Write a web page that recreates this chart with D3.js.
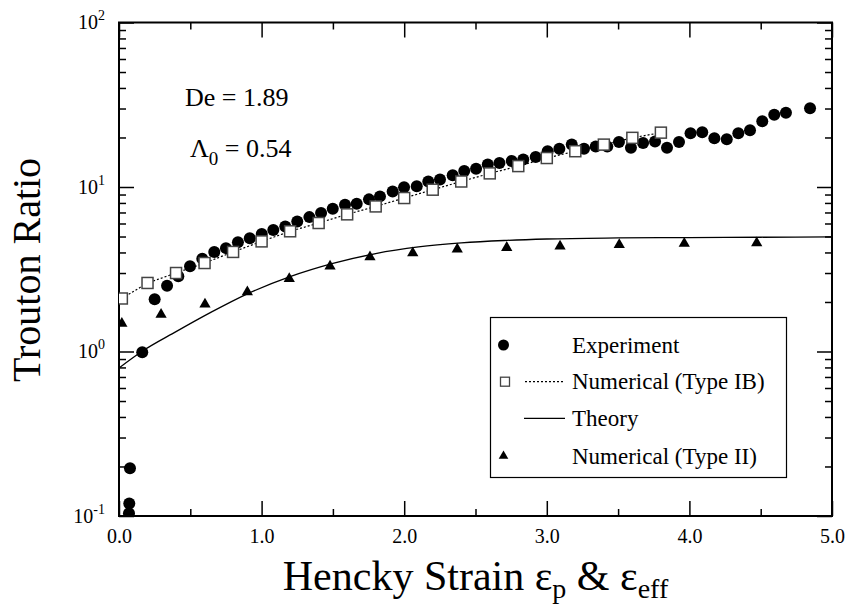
<!DOCTYPE html>
<html>
<head>
<meta charset="utf-8">
<script src="https://cdn.jsdelivr.net/npm/d3@7"></script>
<style>
  body { margin: 0; background: #fff; }
  svg text { font-family: "Liberation Serif", "Times New Roman", serif !important; fill: #000; }
</style>
</head>
<body>
<div id="chart"></div>
<script>
// Experiment (filled circles)
const expX = [0.07, 0.072, 0.077, 0.163, 0.25, 0.337, 0.416, 0.498, 0.584, 0.668, 0.75, 0.834, 0.917, 1.001,
  1.082, 1.166, 1.25, 1.335, 1.417, 1.499, 1.585, 1.667, 1.753, 1.83, 1.919, 1.999, 2.088, 2.169, 2.251, 2.34,
  2.421, 2.504, 2.586, 2.668, 2.754, 2.835, 2.922, 3.006, 3.088, 3.175, 3.261, 3.343, 3.424, 3.506, 3.59, 3.675,
  3.759, 3.843, 3.927, 4.008, 4.09, 4.175, 4.262, 4.343, 4.425, 4.511, 4.595, 4.677, 4.846];
const expY = [0.104, 0.119, 0.195, 0.99, 2.08, 2.51, 2.87, 3.30, 3.66, 4.02, 4.25, 4.61, 4.88, 5.18,
  5.47, 5.76, 6.17, 6.56, 6.94, 7.38, 7.81, 7.92, 8.41, 8.77, 9.40, 9.98, 10.1, 10.8, 11.1, 11.8,
  12.5, 12.9, 13.7, 14.0, 14.4, 14.7, 15.2, 16.5, 17.1, 18.1, 17.1, 17.6, 17.6, 18.8, 17.3, 18.5,
  18.9, 17.3, 18.8, 21.2, 21.5, 19.8, 19.5, 21.2, 22.1, 25.1, 27.5, 28.3, 30.1];

// Numerical (Type IB) (open squares, dotted line)
const ibX = [0.02, 0.2, 0.4, 0.6, 0.8, 1.0, 1.2, 1.4, 1.6, 1.8, 2.0, 2.2, 2.4, 2.6, 2.8, 3.0, 3.2, 3.4, 3.6, 3.8];
const ibY = [2.10, 2.61, 3.00, 3.45, 4.03, 4.67, 5.38, 6.04, 6.82, 7.62, 8.57, 9.63, 10.8, 12.1, 13.4, 15.0, 16.5, 18.1, 19.9, 21.4];

// Theory (solid line)
const thX = [0, 0.16, 0.4, 0.65, 0.9, 1.2, 1.5, 1.8, 2.1, 2.4, 2.7, 3.0, 3.5, 4.0, 4.5, 5.0];
const thY = [0.794, 1.0, 1.32, 1.74, 2.24, 2.85, 3.43, 3.94, 4.32, 4.57, 4.73, 4.83, 4.90, 4.93, 4.95, 4.97];

// Numerical (Type II) (filled triangles)
const t2X = [0.02, 0.295, 0.603, 0.9, 1.194, 1.48, 1.76, 2.06, 2.372, 2.719, 3.093, 3.508, 3.964, 4.472];
const t2Y = [1.48, 1.68, 1.94, 2.30, 2.77, 3.30, 3.75, 3.97, 4.18, 4.28, 4.36, 4.46, 4.53, 4.56];

const xMajor = [0, 1, 2, 3, 4, 5];
const xMinor = [0.5, 1.5, 2.5, 3.5, 4.5];
const yMajor = [0.1, 1, 10, 100];
const yExp = ["-1", "0", "1", "2"];
const yMinor = [];
[0.1, 1, 10].forEach(function(d) { for (let k = 2; k <= 9; k++) yMinor.push(d * k); });

const legendLabels = ["Experiment", "Numerical (Type IB)", "Theory", "Numerical (Type II)"];

const W = 848, H = 606;
const margin = {top: 22.5, right: 16, bottom: 90, left: 119};
const width = W - margin.left - margin.right;
const height = H - margin.top - margin.bottom;
const serif = "'Liberation Serif', 'Times New Roman', serif";

const svg = d3.select("#chart").append("svg")
    .attr("width", W)
    .attr("height", H);

const g = svg.append("g")
    .attr("transform", `translate(${margin.left}, ${margin.top})`);

const x = d3.scaleLinear().domain([0, 5]).range([0, width]);
const y = d3.scaleLog().domain([0.1, 100]).range([height, 0]);

g.append("clipPath").attr("id", "clip")
  .append("rect").attr("width", width).attr("height", height);

// ticks (inward) on all four sides
function styleAxis(sel) {
    sel.attr("font-family", serif);
    sel.select(".domain").remove();
    sel.selectAll(".tick line").attr("stroke", "#000").attr("stroke-width", 1.5);
}

g.append("g").attr("transform", `translate(0, ${height})`)
    .call(d3.axisBottom(x).tickValues(xMajor).tickSize(-15).tickPadding(13).tickFormat(d3.format(".1f")))
    .call(styleAxis)
    .selectAll("text").attr("font-size", 20).style("font-family", serif);
g.append("g").attr("transform", `translate(0, ${height})`)
    .call(d3.axisBottom(x).tickValues(xMinor).tickSize(-7).tickFormat(""))
    .call(styleAxis);
g.append("g")
    .call(d3.axisTop(x).tickValues(xMajor).tickSize(-15).tickFormat(""))
    .call(styleAxis);
g.append("g")
    .call(d3.axisTop(x).tickValues(xMinor).tickSize(-7).tickFormat(""))
    .call(styleAxis);

const yAx = g.append("g")
    .call(d3.axisLeft(y).tickValues(yMajor).tickSize(-15).tickPadding(14).tickFormat(""))
    .call(styleAxis);
yAx.selectAll(".tick text").each(function(d, i) {
    const t = d3.select(this).attr("font-size", 20).style("font-family", serif);
    t.append("tspan").text("10");
    t.append("tspan").attr("font-size", 14).attr("dy", -9).text(yExp[i]);
});
g.append("g")
    .call(d3.axisLeft(y).tickValues(yMinor).tickSize(-7).tickFormat(""))
    .call(styleAxis);
g.append("g").attr("transform", `translate(${width}, 0)`)
    .call(d3.axisRight(y).tickValues(yMajor).tickSize(-15).tickFormat(""))
    .call(styleAxis);
g.append("g").attr("transform", `translate(${width}, 0)`)
    .call(d3.axisRight(y).tickValues(yMinor).tickSize(-7).tickFormat(""))
    .call(styleAxis);

// frame
g.append("rect")
    .attr("width", width).attr("height", height)
    .attr("fill", "none").attr("stroke", "#000").attr("stroke-width", 2);

const plot = g.append("g").attr("clip-path", "url(#clip)");

// theory curve
const thData = thX.map(function(d, i) { return [d, thY[i]]; });
plot.append("path")
    .datum(thData)
    .attr("fill", "none").attr("stroke", "#000").attr("stroke-width", 1.3)
    .attr("d", d3.line().x(d => x(d[0])).y(d => y(d[1])).curve(d3.curveMonotoneX));

// experiment circles
const expData = expX.map(function(d, i) { return [d, expY[i]]; });
plot.selectAll(".exp").data(expData).enter()
    .append("circle")
    .attr("class", "exp")
    .attr("cx", d => x(d[0])).attr("cy", d => y(d[1]))
    .attr("r", 6).attr("fill", "#000");

// type IB dotted line + squares
const ibData = ibX.map(function(d, i) { return [d, ibY[i]]; });
plot.append("path")
    .datum(ibData)
    .attr("fill", "none").attr("stroke", "#000").attr("stroke-width", 1.2)
    .attr("stroke-dasharray", "2,2")
    .attr("d", d3.line().x(d => x(d[0])).y(d => y(d[1])));
plot.selectAll(".ib").data(ibData).enter()
    .append("rect")
    .attr("class", "ib")
    .attr("x", d => x(d[0]) - 5.5).attr("y", d => y(d[1]) - 5.5)
    .attr("width", 11).attr("height", 11)
    .attr("fill", "#fff").attr("stroke", "#444").attr("stroke-width", 1.5);

// type II triangles
const t2Data = t2X.map(function(d, i) { return [d, t2Y[i]]; });
const tri = d3.symbol().type(d3.symbolTriangle).size(55);
plot.selectAll(".t2").data(t2Data).enter()
    .append("path")
    .attr("class", "t2")
    .attr("transform", d => `translate(${x(d[0])}, ${y(d[1])})`)
    .attr("d", tri)
    .attr("fill", "#000");

// annotations
g.append("text").attr("x", 185 - margin.left).attr("y", 106 - margin.top)
    .attr("font-size", 26).text("De = 1.89");
const lam = g.append("text").attr("x", 190 - margin.left).attr("y", 157 - margin.top)
    .attr("font-size", 26);
lam.append("tspan").text("Λ");
lam.append("tspan").attr("font-size", 19).attr("dy", 8).text("0");
lam.append("tspan").attr("dy", -8).text(" = 0.54");

// legend
const lg = svg.append("g");
lg.append("rect")
    .attr("x", 490.5).attr("y", 317.5).attr("width", 296).attr("height", 160)
    .attr("fill", "#fff").attr("stroke", "#000").attr("stroke-width", 1.2);
const rowY = [345, 381.7, 418.3, 456];
lg.append("circle").attr("cx", 503.5).attr("cy", rowY[0]).attr("r", 5.5).attr("fill", "#000");
lg.append("rect").attr("x", 500.5).attr("y", rowY[1] - 4.5).attr("width", 9).attr("height", 9)
    .attr("fill", "#fff").attr("stroke", "#444").attr("stroke-width", 1.3);
lg.append("line").attr("x1", 525).attr("x2", 563).attr("y1", rowY[1]).attr("y2", rowY[1])
    .attr("stroke", "#000").attr("stroke-width", 1.2).attr("stroke-dasharray", "2,2");
lg.append("line").attr("x1", 524).attr("x2", 565).attr("y1", rowY[2]).attr("y2", rowY[2])
    .attr("stroke", "#000").attr("stroke-width", 1.3);
lg.append("path").attr("transform", `translate(503.5, ${rowY[3]})`)
    .attr("d", d3.symbol().type(d3.symbolTriangle).size(40)).attr("fill", "#000");
lg.selectAll(".lt").data(legendLabels).enter()
    .append("text")
    .attr("x", 572).attr("y", (d, i) => rowY[i] + 7.5)
    .attr("font-size", 23)
    .text(d => d);

// axis titles
const xl = svg.append("text")
    .attr("x", margin.left + width / 2).attr("y", 590)
    .attr("text-anchor", "middle").attr("font-size", 42);
xl.append("tspan").text("Hencky Strain ε");
xl.append("tspan").attr("font-size", 28).attr("dy", 8).text("p");
xl.append("tspan").attr("dy", -8).text(" & ε");
xl.append("tspan").attr("font-size", 28).attr("dy", 8).text("eff");

svg.append("text")
    .attr("transform", "translate(40, 382) rotate(-90)")
    .attr("text-anchor", "start").attr("font-size", 40)
    .text("Trouton Ratio");
</script>
</body>
</html>
